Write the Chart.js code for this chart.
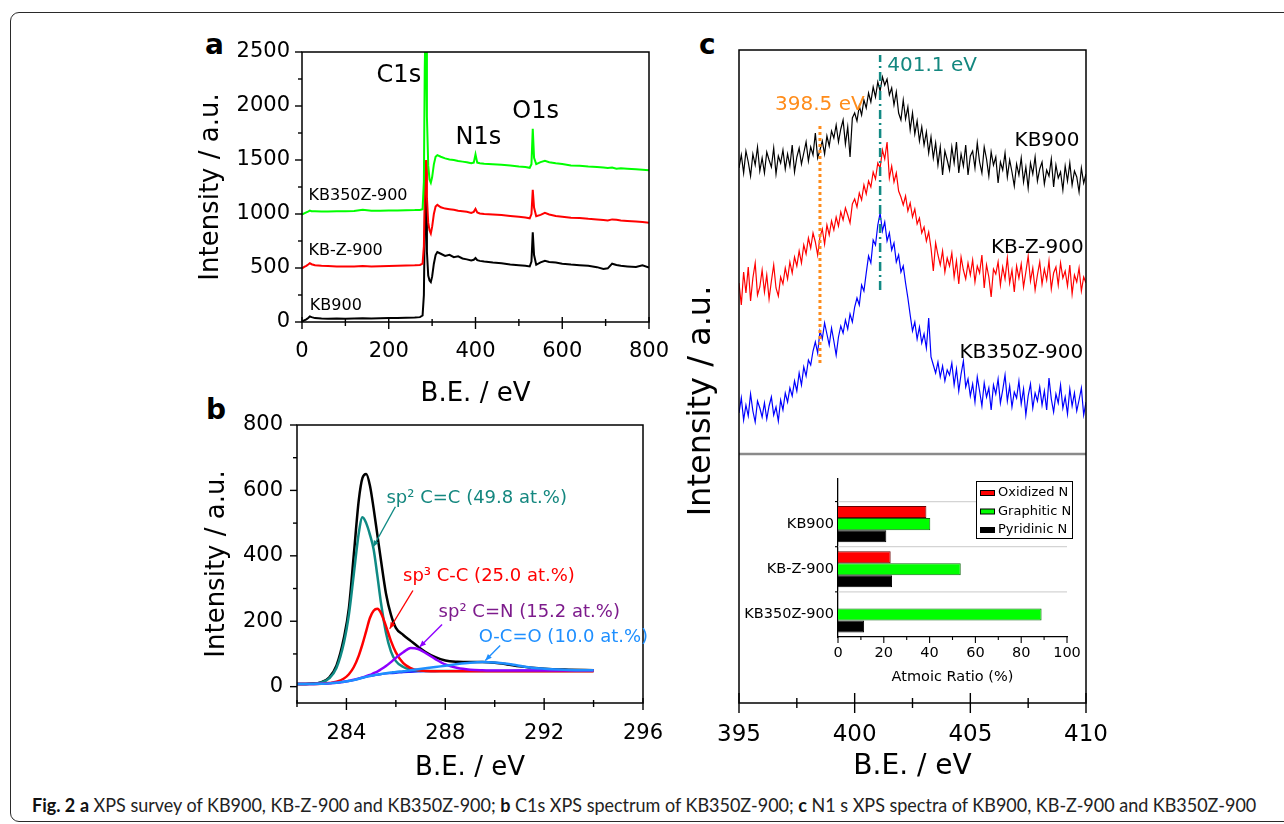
<!DOCTYPE html>
<html>
<head>
<meta charset="utf-8">
<script src="https://cdn.jsdelivr.net/npm/chart.js@4.4.1/dist/chart.umd.min.js"></script>
<style>
  html, body { margin: 0; padding: 0; background: #fff; }
  body { width: 1284px; height: 824px; position: relative; overflow: hidden; }
  .frame { position: absolute; left: 10px; top: 12px; width: 1320px; height: 810px;
           border: 1.5px solid #2a2a2a; border-radius: 9px; box-sizing: border-box; }
  canvas { position: absolute; }
  .tag { position: absolute; font: bold 28px "DejaVu Sans", sans-serif; line-height: 1; color: #000; }
  .caption { position: absolute; left: 32px; top: 795px; font: 19px Lato, sans-serif; line-height: 1;
             color: #222; white-space: nowrap; transform-origin: 0 0; }
  .caption b { color: #111; }
</style>
</head>
<body>
<div class="frame"></div>

<div class="tag" style="left:205px;top:31px">a</div>
<div class="tag" style="left:206px;top:396px">b</div>
<div class="tag" style="left:699px;top:31px">c</div>

<canvas id="survey" width="492" height="380" style="left:196px;top:30px"></canvas>
<canvas id="c1s" width="481" height="379" style="left:202px;top:405px"></canvas>
<canvas id="n1s" width="440" height="754" style="left:681px;top:30px"></canvas>
<canvas id="ratio" width="340" height="216" style="left:740px;top:470px"></canvas>

<div class="caption" id="caption"><b>Fig. 2</b> <b>a</b> XPS survey of KB900, KB-Z-900 and KB350Z-900; <b>b</b> C1s XPS spectrum of KB350Z-900; <b>c</b> N1 s XPS spectra of KB900, KB-Z-900 and KB350Z-900</div>

<script>
// ---- (a) survey spectra ----
const surveyEV = [0, 5, 10, 15, 18, 22, 30, 45, 60, 80,
  100, 120, 140, 160, 180, 200, 220, 240, 260, 272,
  278, 281, 283, 284.5, 286, 288, 291, 294, 297, 300,
  304, 308, 312, 320, 330, 340, 350, 360, 370, 380,
  390, 396, 400, 404, 410, 420, 440, 460, 480, 500,
  515, 525, 529, 532, 535, 540, 550, 560, 570, 585,
  600, 620, 640, 660, 680, 695, 705, 715, 725, 735,
  750, 770, 785, 800];
const survey900 = [5, 15, 25, 40, 52, 45, 36, 32, 30, 32,
  30, 33, 35, 33, 35, 36, 38, 40, 42, 45,
  60, 250, 900, 1350, 1150, 650, 430, 385, 370, 420,
  540, 620, 648, 632, 612, 622, 600, 608, 588, 580,
  570, 576, 592, 572, 566, 560, 550, 545, 532, 526,
  520, 514, 560, 830, 620, 530, 552, 566, 556, 550,
  540, 532, 526, 520, 508, 490, 497, 540, 528, 520,
  515, 510, 525, 505];
const surveyZ900 = [495, 510, 520, 535, 545, 535, 525, 520, 518, 515,
  515, 515, 518, 515, 517, 518, 520, 522, 525, 528,
  540, 700, 1150, 1420, 1500, 1150, 920, 850, 820, 880,
  1000, 1070, 1085, 1062, 1050, 1045, 1040, 1030, 1025, 1020,
  1010, 1020, 1048, 1015, 1005, 1000, 995, 990, 982, 975,
  968, 960, 1000, 1225, 1060, 980, 992, 1010, 996, 982,
  975, 965, 962, 955, 950, 945, 940, 950, 946, 940,
  935, 930, 925, 920];
const survey350Z = [995, 1005, 1015, 1025, 1032, 1026, 1025, 1024, 1022, 1025,
  1025, 1028, 1040, 1030, 1030, 1032, 1033, 1035, 1036, 1038,
  1045, 1300, 2350, 2700, 2650, 1900, 1450, 1320, 1290, 1340,
  1460, 1530, 1545, 1530, 1515, 1505, 1500, 1490, 1485, 1480,
  1470, 1476, 1552, 1476, 1470, 1465, 1460, 1455, 1450, 1440,
  1435, 1428, 1460, 1790, 1520, 1462, 1480, 1492, 1480, 1470,
  1462, 1450, 1446, 1440, 1436, 1430, 1425, 1430, 1420, 1424,
  1420, 1414, 1410, 1405];
const surveyXMajor = [0, 200, 400, 600, 800];
const surveyXMinor = [100, 300, 500, 700];
const surveyYMajor = [0, 500, 1000, 1500, 2000, 2500];
const surveyYMinor = [250, 750, 1250, 1750, 2250];

// ---- (b) C1s fit of KB350Z-900 ----
const c1sEV = [282, 282.5, 283, 283.3, 283.6, 283.9, 284.1, 284.3, 284.5, 284.65,
  284.8, 284.95, 285.1, 285.25, 285.4, 285.6, 285.8, 286.0, 286.3, 286.6,
  286.9, 287.2, 287.6, 288.0, 288.5, 289.0, 289.5, 290.0, 290.5, 291.0,
  291.5, 292.0, 293.0, 294.0];
const c1sEnvelope = [8, 9, 14, 28, 65, 150, 240, 405, 570, 638,
  650, 615, 545, 465, 385, 285, 220, 180, 158, 140,
  122, 106, 90, 80, 76, 75, 75, 73, 68, 62,
  58, 55, 52, 50];
const c1sCC2 = [8, 9, 13, 25, 58, 135, 220, 345, 470, 518,
  500, 465, 420, 340, 255, 165, 108, 78, 60, 52,
  49, 48, 48, 48, 48, 48, 48, 48, 48, 48,
  48, 48, 48, 48];
const c1sCC3 = [8, 8, 9, 11, 15, 25, 38, 60, 95, 130,
  170, 210, 232, 238, 225, 185, 140, 105, 72, 57,
  50, 48, 47, 47, 47, 47, 47, 47, 47, 47,
  47, 47, 47, 47];
const c1sCN = [8, 8, 9, 10, 12, 15, 18, 21, 25, 28,
  32, 36, 41, 46, 53, 63, 75, 88, 105, 118,
  115, 103, 84, 68, 57, 52, 50, 49, 49, 49,
  49, 49, 49, 49];
const c1sOCO = [8, 8, 9, 10, 12, 15, 17, 20, 24, 27,
  30, 33, 35, 37, 39, 41, 43, 45, 47, 50,
  53, 56, 60, 64, 69, 73, 75, 74, 70, 64,
  58, 55, 51, 50];
const c1sBase = [8, 8, 9, 10, 12, 15, 17, 20, 24, 27,
  30, 32, 34, 36, 38, 40, 41, 42, 44, 45,
  46, 47, 47, 48, 48, 48, 48, 48, 48, 49,
  49, 49, 49, 50];
const c1sXMajor = [284, 288, 292, 296];
const c1sXMinor = [282, 286, 290, 294];
const c1sYMajor = [0, 200, 400, 600, 800];
const c1sYMinor = [100, 300, 500, 700];

// ---- (c) N1s spectra, 0.1 eV steps from 395 to 410 ----
const n1sEV = Array.from({ length: 151 }, (_, i) => +(395 + i * 0.1).toFixed(1));
const n1s900 = [535, 548, 530, 552, 541, 527, 549, 538, 556, 532, 545,
  530, 551, 543, 536, 555, 529, 547, 540, 553, 534,
  549, 537, 558, 531, 546, 555, 539, 550, 561, 542,
  556, 548, 570, 545, 553, 562, 549, 567, 557, 572,
  565, 578, 561, 574, 583, 559, 576, 546, 585, 590,
  582, 597, 588, 603, 595, 610, 601, 616, 606, 621,
  612, 626, 618, 624, 608, 615, 598, 611, 590, 583,
  603, 584, 596, 573, 590, 569, 582, 562, 576, 558,
  571, 550, 566, 545, 560, 538, 556, 528, 552, 543,
  533, 556, 540, 561, 530, 549, 537, 558, 528, 547,
  552, 535, 560, 541, 530, 556, 544, 527, 551, 538,
  546, 520, 541, 533, 550, 526, 543, 531, 517, 539,
  528, 545, 521, 536, 515, 540, 529, 546, 522, 534,
  541, 519, 533, 527, 544, 516, 538, 525, 531, 513,
  537, 522, 540, 518, 532, 526, 511, 535, 520, 529];
const n1sZ900 = [420, 398, 431, 410, 436, 402, 425, 440, 408, 416, 433,
  411, 428, 404, 422, 438, 415, 407, 426, 419, 435,
  424, 441, 430, 446, 437, 452, 440, 458, 449, 465,
  455, 470, 461, 448, 466, 474, 459, 478, 468, 482,
  473, 486, 477, 491, 483, 495, 488, 480, 499, 504,
  496, 510, 503, 518, 509, 522, 516, 531, 524, 540,
  535, 553, 544, 561, 525, 537, 521, 530, 512, 506,
  498, 507, 492, 500, 486, 494, 479, 485, 470, 476,
  462, 471, 455, 432, 460, 448, 438, 452, 431, 445,
  437, 450, 426, 442, 419, 446, 433, 424, 440, 428,
  443, 421, 437, 430, 448, 415, 438, 426, 406, 434,
  429, 441, 418, 436, 424, 445, 420, 433, 411, 437,
  425, 439, 416, 431, 447, 422, 435, 413, 428, 441,
  419, 434, 423, 442, 414, 430, 436, 418, 440, 425,
  432, 417, 438, 409, 428, 421, 435, 412, 426, 420];
const n1s350Z = [290, 305, 283, 298, 287, 309, 292, 281, 302, 295, 286,
  300, 284, 297, 306, 288, 296, 282, 303, 293, 310,
  301, 315, 307, 322, 312, 330, 318, 336, 327, 343,
  338, 352, 361, 350, 372, 364, 380, 369, 358, 375,
  362, 348, 366, 377, 370, 383, 374, 389, 381, 396,
  405, 398, 418, 412, 430, 447, 440, 463, 458, 478,
  490, 472, 481, 462, 470, 453, 460, 441, 448, 431,
  437, 420, 405, 388, 372, 381, 364, 376, 360, 369,
  355, 385, 346, 338, 330, 341, 326, 337, 322, 333,
  328, 340, 318, 334, 312, 329, 342, 316, 324, 307,
  319, 301, 326, 312, 297, 320, 306, 315, 293, 318,
  309, 324, 300, 313, 328, 302, 317, 296, 311, 305,
  322, 299, 314, 288, 307, 319, 295, 310, 302, 316,
  298, 312, 293, 325, 304, 291, 309, 300, 318, 295,
  306, 289, 314, 297, 310, 292, 303, 315, 288, 301];
const pyridinicEV = 398.5;
const graphiticEV = 401.1;
const n1sXMajor = [395, 400, 405, 410];
const n1sXMinor = [397.5, 402.5, 407.5];

// ---- (c) inset: N species ----
const ratioSamples = ['KB900', 'KB-Z-900', 'KB350Z-900'];
const oxidizedN = [38.6, 23.0, null];
const graphiticN = [40.3, 53.6, 88.9];
const pyridinicN = [21.1, 23.6, 11.4];
const ratioXMajor = [0, 20, 40, 60, 80, 100];
const ratioXMinor = [10, 30, 50, 70, 90];

Chart.defaults.font.family = '"DejaVu Sans", sans-serif';
Chart.defaults.color = '#000';

const pts = (xs, ys) => xs.map((x, i) => ({ x, y: ys[i] }));

function trace(label, xs, ys, color, width, extra) {
  return Object.assign({
    label, data: pts(xs, ys), borderColor: color, borderWidth: width,
    pointRadius: 0, fill: false, tension: 0
  }, extra || {});
}

// tick labels may hang past the plot edges without shrinking the plot
function noOverhang(s) {
  s.paddingLeft = 0; s.paddingRight = 0; s.paddingTop = 0; s.paddingBottom = 0;
}

function axisX(o) {
  return {
    type: 'linear', position: 'bottom', min: o.min, max: o.max, offset: false,
    grid: { display: false, drawTicks: false, offset: false },
    border: { display: !!o.border, color: '#000', width: 1.3 },
    afterBuildTicks: s => { s.ticks = o.ticks.map(v => ({ value: v })); },
    afterFit: s => { s.height = o.height; noOverhang(s); },
    ticks: { padding: o.pad, font: { size: o.size }, color: '#000', maxRotation: 0, autoSkip: false,
             callback: v => String(v) },
    title: { display: !!o.title, text: o.title, font: { size: o.titleSize }, color: '#000', padding: 0 }
  };
}

function axisY(o) {
  return {
    type: 'linear', position: 'left', min: o.min, max: o.max, reverse: !!o.reverse, offset: false,
    grid: { display: false, drawTicks: false, offset: false },
    border: { display: !!o.border, color: '#000', width: 1.3 },
    afterBuildTicks: s => { s.ticks = (o.ticks || []).map(v => ({ value: v })); },
    afterFit: s => { s.width = o.width; noOverhang(s); },
    ticks: { display: !!o.ticks, padding: o.pad || 0, font: { size: o.size || 12 }, color: '#000',
             autoSkip: false, callback: o.format || (v => String(v)) },
    title: { display: !!o.title, text: o.title, font: { size: o.titleSize }, color: '#000', padding: 0 }
  };
}

// closed box round the plot area
function boxFrame(width) {
  return {
    id: 'boxFrame',
    afterDatasetsDraw(chart) {
      const { ctx, chartArea: a } = chart;
      ctx.save();
      ctx.strokeStyle = '#000';
      ctx.lineWidth = width;
      ctx.strokeRect(a.left, a.top, a.right - a.left, a.bottom - a.top);
      ctx.restore();
    }
  };
}

// major/minor tick marks, lengths given inside and outside the axis line
function tickMarks(axes) {
  return {
    id: 'tickMarks',
    afterDraw(chart) {
      const { ctx, chartArea: a } = chart;
      ctx.save();
      ctx.strokeStyle = '#000';
      Object.keys(axes).forEach(id => {
        const s = chart.scales[id], t = axes[id];
        ctx.lineWidth = t.lw || 1.4;
        [[t.major, t.majIn, t.majOut], [t.minor || [], t.minIn, t.minOut]].forEach(([vals, inn, out]) => {
          vals.forEach(v => {
            const p = s.getPixelForValue(v);
            ctx.beginPath();
            if (s.isHorizontal()) { ctx.moveTo(p, a.bottom - inn); ctx.lineTo(p, a.bottom + out); }
            else { ctx.moveTo(a.left + inn, p); ctx.lineTo(a.left - out, p); }
            ctx.stroke();
          });
        });
      });
      ctx.restore();
    }
  };
}

// text placed at data coordinates
function notes(items) {
  return {
    id: 'notes',
    afterDatasetsDraw(chart) {
      const { ctx, scales: { x, y } } = chart;
      ctx.save();
      ctx.textBaseline = 'middle';
      items.forEach(n => {
        ctx.font = `${n.size}px "DejaVu Sans", sans-serif`;
        ctx.fillStyle = n.color || '#000';
        ctx.textAlign = n.align || 'left';
        ctx.fillText(n.text, x.getPixelForValue(n.x), y.getPixelForValue(n.y));
      });
      ctx.restore();
    }
  };
}

// pointer lines from a fit label to its component
function pointers(items) {
  return {
    id: 'pointers',
    afterDatasetsDraw(chart) {
      const { ctx, scales: { x, y } } = chart;
      ctx.save();
      ctx.lineWidth = 1.4;
      items.forEach(p => {
        const x1 = x.getPixelForValue(p.x1), y1 = y.getPixelForValue(p.y1);
        const x2 = x.getPixelForValue(p.x2), y2 = y.getPixelForValue(p.y2);
        const ang = Math.atan2(y2 - y1, x2 - x1);
        ctx.strokeStyle = p.color;
        ctx.fillStyle = p.color;
        ctx.beginPath(); ctx.moveTo(x1, y1); ctx.lineTo(x2, y2); ctx.stroke();
        ctx.beginPath();
        ctx.moveTo(x2, y2);
        ctx.lineTo(x2 - 7 * Math.cos(ang - 0.4), y2 - 7 * Math.sin(ang - 0.4));
        ctx.lineTo(x2 - 7 * Math.cos(ang + 0.4), y2 - 7 * Math.sin(ang + 0.4));
        ctx.closePath(); ctx.fill();
      });
      ctx.restore();
    }
  };
}

function sideTitle(text, size, cx, cy) {
  return {
    id: 'sideTitle',
    afterDraw(chart) {
      const ctx = chart.ctx;
      ctx.save();
      ctx.translate(cx, cy);
      ctx.rotate(-Math.PI / 2);
      ctx.font = `${size}px "DejaVu Sans", sans-serif`;
      ctx.textAlign = 'center';
      ctx.textBaseline = 'middle';
      ctx.fillStyle = '#000';
      ctx.fillText(text, 0, 0);
      ctx.restore();
    }
  };
}

const base = {
  responsive: false,
  animation: false,
  events: [],
  plugins: { legend: { display: false }, tooltip: { enabled: false } }
};

// (a) XPS survey
new Chart(document.getElementById('survey'), {
  type: 'line',
  data: {
    datasets: [
      trace('KB350Z-900', surveyEV, survey350Z, '#00ff00', 2),
      trace('KB-Z-900', surveyEV, surveyZ900, '#ff0000', 2),
      trace('KB900', surveyEV, survey900, '#000000', 2)
    ]
  },
  options: Object.assign({}, base, {
    layout: { padding: { top: 22, right: 39, left: 0, bottom: 0 } },
    scales: {
      x: axisX({ min: 0, max: 800, ticks: surveyXMajor, size: 21, pad: 17, height: 88,
                 title: 'B.E. / eV', titleSize: 26 }),
      y: axisY({ min: 0, max: 2500, ticks: surveyYMajor, size: 21, pad: 12, width: 106,
                 title: 'Intensity / a.u.', titleSize: 26 })
    }
  }),
  plugins: [
    boxFrame(1.5),
    tickMarks({
      x: { major: surveyXMajor, minor: surveyXMinor, majIn: 5, majOut: 7, minIn: 3, minOut: 4 },
      y: { major: surveyYMajor, minor: surveyYMinor, majIn: 0, majOut: 7, minIn: 0, minOut: 4 }
    }),
    notes([
      { text: 'C1s', x: 172, y: 2284, size: 24 },
      { text: 'N1s', x: 354, y: 1707, size: 24 },
      { text: 'O1s', x: 485, y: 1944, size: 24 },
      { text: 'KB350Z-900', x: 15, y: 1166, size: 16 },
      { text: 'KB-Z-900', x: 15, y: 663, size: 16 },
      { text: 'KB900', x: 18, y: 154, size: 16 }
    ])
  ]
});

// (b) C1s deconvolution
const smooth = { tension: 0.4, cubicInterpolationMode: 'monotone' };
new Chart(document.getElementById('c1s'), {
  type: 'line',
  data: {
    datasets: [
      trace('O-C=O', c1sEV, c1sOCO, '#1e8fff', 2.5, smooth),
      trace('sp2 C=N', c1sEV, c1sCN, '#8f00ff', 2.5, smooth),
      trace('sp3 C-C', c1sEV, c1sCC3, '#ff0000', 2.5, smooth),
      trace('sp2 C=C', c1sEV, c1sCC2, '#0f8a84', 2.5, smooth),
      trace('Background', c1sEV, c1sBase, '#2626ff', 2, smooth),
      trace('Envelope', c1sEV, c1sEnvelope, '#000000', 2.5, smooth)
    ]
  },
  options: Object.assign({}, base, {
    layout: { padding: { top: 20, right: 40, left: 0, bottom: 0 } },
    scales: {
      x: axisX({ min: 282, max: 296, ticks: c1sXMajor, size: 21, pad: 18, height: 81,
                 title: 'B.E. / eV', titleSize: 26 }),
      y: axisY({ min: -50, max: 800, ticks: c1sYMajor, size: 21, pad: 14, width: 95,
                 title: 'Intensity / a.u.', titleSize: 26 })
    }
  }),
  plugins: [
    boxFrame(1.5),
    tickMarks({
      x: { major: c1sXMajor, minor: c1sXMinor, majIn: 5, majOut: 7, minIn: 3, minOut: 4 },
      y: { major: c1sYMajor, minor: c1sYMinor, majIn: 0, majOut: 7, minIn: 0, minOut: 4 }
    }),
    pointers([
      { x1: 285.98, y1: 550, x2: 285.08, y2: 427, color: '#0f8a84' },
      { x1: 286.69, y1: 294, x2: 285.75, y2: 177, color: '#ff0000' },
      { x1: 287.87, y1: 190, x2: 286.96, y2: 121, color: '#8f00ff' },
      { x1: 290.22, y1: 126, x2: 289.62, y2: 80, color: '#1e8fff' }
    ]),
    notes([
      { text: 'sp² C=C (49.8 at.%)', x: 285.62, y: 575, size: 18, color: '#14877f' },
      { text: 'sp³ C-C (25.0 at.%)', x: 286.29, y: 337, size: 18, color: '#ff0000' },
      { text: 'sp² C=N (15.2 at.%)', x: 287.73, y: 228, size: 18, color: '#7d1b8c' },
      { text: 'O-C=O (10.0 at.%)', x: 289.35, y: 151, size: 18, color: '#1e8fff' }
    ])
  ]
});

// (c) N1s spectra, offset for clarity
new Chart(document.getElementById('n1s'), {
  type: 'line',
  data: {
    datasets: [
      trace('398.5 eV', [pyridinicEV, pyridinicEV], [340, 580], '#ff8c1a', 3, { borderDash: [3, 3] }),
      trace('401.1 eV', [graphiticEV, graphiticEV], [413, 648], '#128a84', 2.5, { borderDash: [9, 4, 2, 4] }),
      trace('divider', [395, 410], [249, 249], '#8a8a8a', 2.5),
      trace('KB350Z-900', n1sEV, n1s350Z, '#0000ff', 1.2),
      trace('KB-Z-900', n1sEV, n1sZ900, '#ff0000', 1.2),
      trace('KB900', n1sEV, n1s900, '#000000', 1.2)
    ]
  },
  options: Object.assign({}, base, {
    layout: { padding: { top: 20, right: 35, left: 0, bottom: 0 } },
    scales: {
      x: axisX({ min: 395, max: 410, ticks: n1sXMajor, size: 23, pad: 18, height: 81,
                 title: 'B.E. / eV', titleSize: 28 }),
      y: axisY({ min: 0, max: 653, width: 58 })
    }
  }),
  plugins: [
    boxFrame(1.5),
    tickMarks({
      x: { major: n1sXMajor, minor: n1sXMinor, majIn: 10, majOut: 10, minIn: 5, minOut: 5 }
    }),
    sideTitle('Intensity / a.u.', 32, 21, 371),
    notes([
      { text: '398.5 eV', x: 396.56, y: 598, size: 20, color: '#ff8c1a' },
      { text: '401.1 eV', x: 401.41, y: 637, size: 20, color: '#13877f' },
      { text: 'KB900', x: 409.72, y: 562, size: 20, align: 'right' },
      { text: 'KB-Z-900', x: 409.9, y: 455, size: 20, align: 'right' },
      { text: 'KB350Z-900', x: 409.88, y: 350, size: 20, align: 'right' }
    ])
  ]
});

// inset: atomic ratio of N species
const bars = vals => vals.map((v, i) => ({ x: v, y: i + 1 }));
const slotLines = [0.5, 1.5, 2.5];
new Chart(document.getElementById('ratio'), {
  type: 'bar',
  data: {
    datasets: [
      { label: 'Oxidized N', data: bars(oxidizedN), backgroundColor: '#ff0000', borderColor: '#6a0000', borderWidth: 1 },
      { label: 'Graphitic N', data: bars(graphiticN), backgroundColor: '#00ff00', borderColor: '#106a10', borderWidth: 1 },
      { label: 'Pyridinic N', data: bars(pyridinicN), backgroundColor: '#000000', borderColor: '#000000', borderWidth: 1 }
    ]
  },
  options: Object.assign({}, base, {
    indexAxis: 'y',
    datasets: { bar: { categoryPercentage: 0.8, barPercentage: 1.0 } },
    layout: { padding: { top: 9, right: 13, left: 0, bottom: 0 } },
    scales: {
      x: axisX({ min: 0, max: 100, ticks: ratioXMajor, size: 14.5, pad: 8, height: 49, border: true,
                 title: 'Atmoic Ratio (%)', titleSize: 14.5 }),
      y: axisY({ min: 0, max: 3.5, reverse: true, ticks: [1, 2, 3], size: 14.5, pad: 4, width: 98, border: true,
                 format: v => ratioSamples[v - 1] })
    }
  }),
  plugins: [
    {
      id: 'slotLines',
      beforeDatasetsDraw(chart) {
        const { ctx, chartArea: a, scales: { y } } = chart;
        ctx.save();
        ctx.strokeStyle = '#d4d4d4';
        ctx.lineWidth = 1.2;
        slotLines.forEach(v => {
          const p = y.getPixelForValue(v);
          ctx.beginPath(); ctx.moveTo(a.left, p); ctx.lineTo(a.right, p); ctx.stroke();
        });
        ctx.restore();
      }
    },
    tickMarks({
      x: { major: ratioXMajor, minor: ratioXMinor, majIn: 0, majOut: 6, minIn: 0, minOut: 3, lw: 1.1 },
      y: { major: slotLines, majIn: 0, majOut: 3, lw: 1.1 }
    }),
    {
      id: 'ratioLegend',
      afterDraw(chart) {
        const ctx = chart.ctx, x = 236, y = 11, w = 96, h = 57;
        ctx.save();
        ctx.fillStyle = '#fff';
        ctx.fillRect(x, y, w, h);
        ctx.strokeStyle = '#000';
        ctx.lineWidth = 1;
        ctx.strokeRect(x + 0.5, y + 0.5, w, h);
        ctx.font = '13px "DejaVu Sans", sans-serif';
        ctx.textBaseline = 'middle';
        chart.data.datasets.forEach((ds, i) => {
          const cy = y + 12 + i * 18.5;
          ctx.fillStyle = ds.backgroundColor;
          ctx.fillRect(x + 4, cy - 2.5, 14, 5);
          ctx.strokeRect(x + 4.5, cy - 2.5, 14, 5);
          ctx.fillStyle = '#000';
          ctx.fillText(ds.label, x + 22, cy);
        });
        ctx.restore();
      }
    }
  ]
});

// squeeze the caption onto one line between the frame edges
const cap = document.getElementById('caption');
cap.style.transform = `scaleX(${1224 / cap.offsetWidth})`;
</script>
</body>
</html>
